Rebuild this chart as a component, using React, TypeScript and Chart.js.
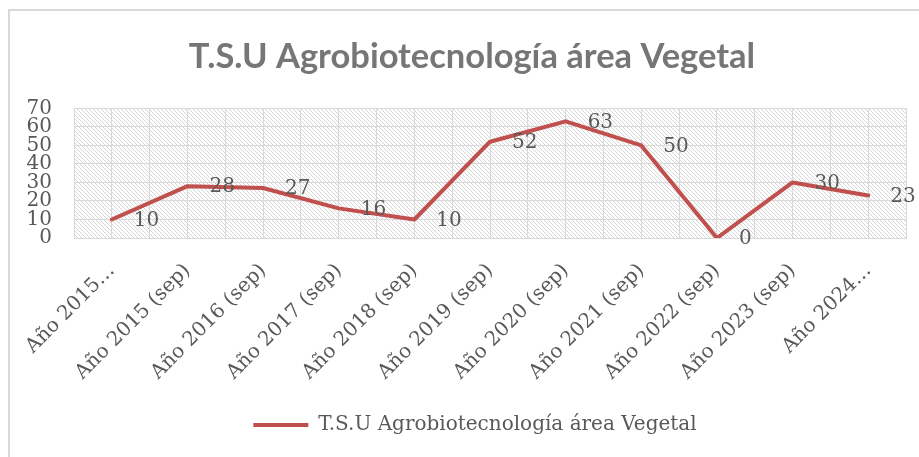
import React, { useEffect, useRef } from "react";
import { Chart, registerables } from "chart.js";

Chart.register(...registerables);

const TITLE = "T.S.U Agrobiotecnología área Vegetal";
const SERIES_NAME = "T.S.U Agrobiotecnología área Vegetal";
const CATEGORIES = [
  "Año 2015…",
  "Año 2015 (sep)",
  "Año 2016 (sep)",
  "Año 2017 (sep)",
  "Año 2018 (sep)",
  "Año 2019 (sep)",
  "Año 2020 (sep)",
  "Año 2021 (sep)",
  "Año 2022 (sep)",
  "Año 2023 (sep)",
  "Año 2024…",
];
const VALUES = [10, 28, 27, 16, 10, 52, 63, 50, 0, 30, 23];
const Y_MIN = 0;
const Y_MAX = 70;
const Y_STEP = 10;

const LINE_COLOR = "#C0504D";
const TEXT_COLOR = "#595959";
const GRID_COLOR = "#d9d9d9";
const SERIF = "'DejaVu Serif', serif";

function makePattern(ctx: CanvasRenderingContext2D) {
  const c = document.createElement("canvas");
  c.width = 8;
  c.height = 8;
  const p = c.getContext("2d")!;
  p.fillStyle = "#ffffff";
  p.fillRect(0, 0, 8, 8);
  p.fillStyle = "#d6d6d6";
  for (let y = 0; y < 8; y++) {
    for (let x = 0; x < 8; x++) {
      if (((x - y) % 4 + 4) % 4 === 0) p.fillRect(x, y, 1, 1);
    }
  }
  return ctx.createPattern(c, "repeat");
}

const hatchPlugin = {
  id: "hatch",
  beforeDraw(chart: any) {
    const { ctx, chartArea } = chart;
    if (!chartArea) return;
    const pat = makePattern(ctx);
    ctx.save();
    ctx.fillStyle = pat;
    ctx.fillRect(chartArea.left, chartArea.top, chartArea.right - chartArea.left, chartArea.bottom - chartArea.top);
    ctx.restore();
  },
};

// Shift title and legend so that they are centred on the outer frame, as in the original.
const centerShiftPlugin = {
  id: "centerShift",
  afterLayout(chart: any) {
    if (chart.legend) {
      chart.legend.left += 22;
      chart.legend.right += 22;
    }
    if (chart.titleBlock) {
      chart.titleBlock.left += 19;
      chart.titleBlock.right += 19;
    }
  },
};

const labelPlugin = {
  id: "pointLabels",
  afterDatasetsDraw(chart: any) {
    const { ctx } = chart;
    const meta = chart.getDatasetMeta(0);
    const data = chart.data.datasets[0].data;
    ctx.save();
    ctx.font = `20px ${SERIF}`;
    ctx.fillStyle = TEXT_COLOR;
    ctx.textAlign = "left";
    ctx.textBaseline = "middle";
    meta.data.forEach((el: any, i: number) => {
      ctx.fillText(String(data[i]), el.x + 22, el.y + 1);
    });
    ctx.restore();
  },
};

export default function App() {
  const ref = useRef<HTMLCanvasElement | null>(null);

  useEffect(() => {
    if (!ref.current) return;
    const chart = new Chart(ref.current, {
      type: "line",
      data: {
        labels: CATEGORIES,
        datasets: [
          {
            label: SERIES_NAME,
            data: VALUES,
            borderColor: LINE_COLOR,
            backgroundColor: LINE_COLOR,
            borderWidth: 4,
            pointRadius: 0,
            pointHoverRadius: 0,
            tension: 0,
            borderJoinStyle: "round",
            borderCapStyle: "round",
            xAxisID: "x",
            yAxisID: "y",
          },
        ],
      },
      options: {
        responsive: false,
        animation: false,
        layout: { padding: { left: 0, right: 13, top: 0, bottom: 12 } },
        scales: {
          x: {
            type: "category",
            position: "bottom",
            offset: true,
            grid: { offset: true, color: GRID_COLOR, lineWidth: 1, drawTicks: false },
            border: { display: true, color: GRID_COLOR, width: 1 },
            ticks: {
              color: TEXT_COLOR,
              font: { family: SERIF, size: 20 },
              minRotation: 45,
              maxRotation: 45,
              autoSkip: false,
              padding: 21,
            },
            afterFit(scale: any) {
              scale.height = 167;
            },
          },
          x2: {
            type: "category",
            position: "top",
            offset: true,
            labels: CATEGORIES,
            grid: { offset: false, color: GRID_COLOR, lineWidth: 1, drawTicks: false },
            border: { display: false },
            ticks: { display: false },
            afterFit(scale: any) {
              scale.height = 0;
            },
          },
          y: {
            min: Y_MIN,
            max: Y_MAX,
            grid: { color: GRID_COLOR, lineWidth: 1, drawTicks: false },
            border: { display: true, color: GRID_COLOR, width: 1 },
            ticks: {
              stepSize: Y_STEP,
              autoSkip: false,
              color: TEXT_COLOR,
              font: { family: SERIF, size: 20 },
              padding: 22,
            },
            afterFit(scale: any) {
              scale.width = 74;
            },
          },
        },
        plugins: {
          title: {
            display: true,
            text: TITLE,
            color: "#767676",
            font: { family: "Lato, 'Open Sans', sans-serif", size: 34.5, weight: "bold" },
            padding: { top: 36, bottom: 31 },
          },
          legend: {
            display: true,
            position: "bottom",
            labels: {
              boxWidth: 55,
              boxHeight: 4,
              padding: 10,
              color: TEXT_COLOR,
              font: { family: SERIF, size: 20 },
              generateLabels: () => [
                {
                  text: SERIES_NAME,
                  fillStyle: LINE_COLOR,
                  strokeStyle: LINE_COLOR,
                  lineWidth: 0,
                  hidden: false,
                  datasetIndex: 0,
                  fontColor: TEXT_COLOR,
                },
              ],
            },
          },
          tooltip: { enabled: false },
        },
      },
      plugins: [hatchPlugin, centerShiftPlugin, labelPlugin],
    } as any);
    return () => chart.destroy();
  }, []);

  return (
    <div style={{ position: "absolute", left: 0, top: 0, width: 919, height: 457, overflow: "hidden", background: "#ffffff" }}>
      <div
        style={{
          position: "absolute",
          left: 8,
          top: 9,
          width: 1000,
          height: 1000,
          borderLeft: "2px solid #d9d9d9",
          borderTop: "2px solid #d9d9d9",
        }}
      />
      <canvas ref={ref} width={919} height={457} style={{ position: "absolute", left: 0, top: 0 }} />
    </div>
  );
}
